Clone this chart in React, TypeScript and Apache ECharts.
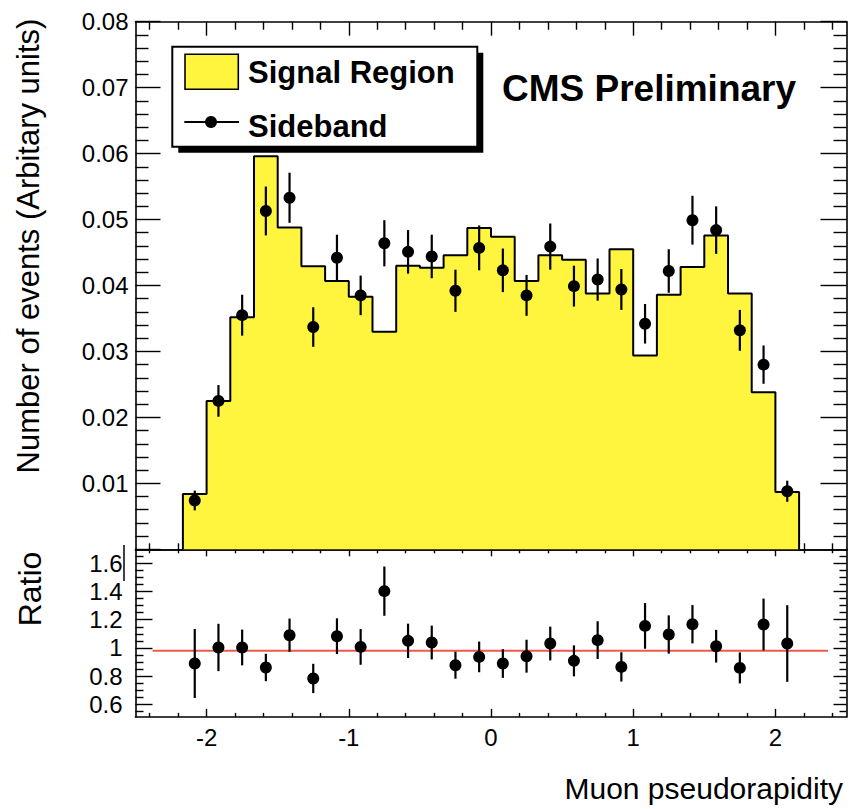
import React, { useEffect, useRef } from "react";
import * as echarts from "echarts";

// ---- data ----
const etaCenters = [
  -2.0833, -1.9167, -1.75, -1.5833, -1.4167, -1.25, -1.0833, -0.9167, -0.75,
  -0.5833, -0.4167, -0.25, -0.0833, 0.0833, 0.25, 0.4167, 0.5833, 0.75, 0.9167,
  1.0833, 1.25, 1.4167, 1.5833, 1.75, 1.9167, 2.0833,
];
const binWidth = 1 / 6;

const signalRegion = [
  0.0084, 0.0225, 0.0352, 0.0596, 0.0488, 0.0429, 0.0407, 0.0383, 0.033,
  0.043, 0.0427, 0.0446, 0.0487, 0.0474, 0.0407, 0.0446, 0.0439, 0.0388,
  0.0455, 0.0294, 0.0386, 0.0428, 0.0476, 0.0388, 0.0238, 0.0087,
];

const sideband = [
  0.0074, 0.0225, 0.0355, 0.0513, 0.0533, 0.0337, 0.0442, 0.0385, 0.0464,
  0.0451, 0.0444, 0.0392, 0.0457, 0.0423, 0.0385, 0.0459, 0.0399, 0.0409,
  0.0394, 0.0342, 0.0422, 0.0499, 0.0484, 0.0332, 0.028, 0.0088,
];
const sidebandErr = [
  0.0015, 0.0024, 0.0031, 0.0037, 0.0038, 0.003, 0.0035, 0.003, 0.0035,
  0.0033, 0.0033, 0.0032, 0.0034, 0.0033, 0.0031, 0.0035, 0.0031, 0.0032,
  0.0031, 0.003, 0.0033, 0.0037, 0.0036, 0.0031, 0.0029, 0.0016,
];

const ratio = [
  0.889, 1.003, 1.003, 0.861, 1.09, 0.783, 1.083, 1.007, 1.403, 1.05, 1.038,
  0.877, 0.936, 0.889, 0.941, 1.031, 0.908, 1.055, 0.865, 1.156, 1.095, 1.168,
  1.012, 0.858, 1.166, 1.031,
];
const ratioErr = [
  0.245, 0.168, 0.127, 0.097, 0.118, 0.104, 0.127, 0.127, 0.175, 0.122, 0.12,
  0.096, 0.109, 0.102, 0.117, 0.12, 0.11, 0.134, 0.104, 0.162, 0.136, 0.136,
  0.116, 0.11, 0.184, 0.272,
];

const fitLevel = 0.98;
const fitRange = [-2.38, 2.37];

// ---- axis ticks / labels ----
const xMajorTicks = [-2, -1, 0, 1, 2];
const xMinorTicks = [
  -2.4, -2.2, -1.8, -1.6, -1.4, -1.2, -0.8, -0.6, -0.4, -0.2, 0.2, 0.4, 0.6,
  0.8, 1.2, 1.4, 1.6, 1.8, 2.2, 2.4,
];
const yMajorTicks = [0.01, 0.02, 0.03, 0.04, 0.05, 0.06, 0.07, 0.08];
const yMinorTicks: number[] = [];
for (let k = 1; k < 40; k++) if (k % 5 !== 0) yMinorTicks.push(+(k * 0.002).toFixed(4));
const ratioMajorTicks = [0.6, 0.8, 1, 1.2, 1.4, 1.6];
const ratioMinorTicks = [
  0.55, 0.65, 0.7, 0.75, 0.85, 0.9, 0.95, 1.05, 1.1, 1.15, 1.25, 1.3, 1.35,
  1.45, 1.5, 1.55, 1.65,
];

const FONT = "'Liberation Sans', Arial, Helvetica, sans-serif";
const YELLOW = "#fff53f";

const G0 = { left: 135.5, top: 21.7, width: 711, height: 527.6 };
const G1 = { left: 135.5, top: 549.3, width: 711, height: 167.6 };

function xAx(grid: number, pos: string, ticks: number[], len: number, line: boolean, labels?: number[]) {
  return {
    type: "value",
    gridIndex: grid,
    position: pos,
    min: -2.5,
    max: 2.5,
    axisLine: { show: line, onZero: false, lineStyle: { color: "#000", width: 1.6 } },
    axisTick: { show: true, inside: true, length: len, customValues: ticks, lineStyle: { color: "#000", width: 1.4 } },
    axisLabel: labels
      ? { show: true, customValues: labels, margin: 9, fontSize: 24, color: "#000", fontFamily: FONT, formatter: (v: number) => String(v) }
      : { show: false },
    splitLine: { show: false },
  };
}

function yAx(grid: number, pos: string, min: number, max: number, ticks: number[], len: number, line: boolean, labels?: number[], margin = 7, fmt?: (v: number) => string) {
  return {
    type: "value",
    gridIndex: grid,
    position: pos,
    min,
    max,
    axisLine: { show: line, onZero: false, lineStyle: { color: "#000", width: 1.6 } },
    axisTick: { show: true, inside: true, length: len, customValues: ticks, lineStyle: { color: "#000", width: 1.4 } },
    axisLabel: labels
      ? { show: true, customValues: labels, margin, fontSize: 24, color: "#000", fontFamily: FONT, formatter: fmt }
      : { show: false },
    splitLine: { show: false },
  };
}

export default function App() {
  const ref = useRef<HTMLDivElement>(null);
  useEffect(() => {
    document.body.style.margin = "0";
    if (!ref.current) return;
    const chart = echarts.init(ref.current, null, { renderer: "svg" });

    // histogram outline points (step 'end')
    const histPts: number[][] = [];
    histPts.push([etaCenters[0] - binWidth / 2, 0]);
    etaCenters.forEach((c, i) => histPts.push([c - binWidth / 2, signalRegion[i]]));
    const last = etaCenters.length - 1;
    histPts.push([etaCenters[last] + binWidth / 2, signalRegion[last]]);
    histPts.push([etaCenters[last] + binWidth / 2, 0]);

    const sbPts = etaCenters.map((c, i) => [c, sideband[i]]);
    const sbErr = etaCenters.map((c, i) => [c, sideband[i] - sidebandErr[i], sideband[i] + sidebandErr[i]]);
    const rPts = etaCenters.map((c, i) => [c, ratio[i]]);
    const rErr = etaCenters.map((c, i) => [c, ratio[i] - ratioErr[i], ratio[i] + ratioErr[i]]);

    const errRender = (params: any, api: any) => {
      const p1 = api.coord([api.value(0), api.value(1)]);
      const p2 = api.coord([api.value(0), api.value(2)]);
      return {
        type: "line",
        shape: { x1: p1[0], y1: p1[1], x2: p2[0], y2: p2[1] },
        style: { stroke: "#000", lineWidth: 2.2 },
      };
    };

    const fmtRatio = (v: number) => (v === 1 ? "1" : v.toFixed(1));

    chart.setOption({
      animation: false,
      backgroundColor: "#fff",
      grid: [
        { ...G0, containLabel: false },
        { ...G1, containLabel: false },
      ],
      xAxis: [
        xAx(0, "bottom", xMajorTicks, 12, true),
        xAx(0, "bottom", xMinorTicks, 6, false),
        xAx(0, "top", xMajorTicks, 14, true),
        xAx(0, "top", xMinorTicks, 8, false),
        xAx(1, "bottom", xMajorTicks, 8, true, xMajorTicks),
        xAx(1, "bottom", xMinorTicks, 4, false),
        xAx(1, "top", xMajorTicks, 7, true),
        xAx(1, "top", xMinorTicks, 4, false),
      ],
      yAxis: [
        yAx(0, "left", 0, 0.08, [0, ...yMajorTicks], 25, true, yMajorTicks, 7, (v: number) => v.toFixed(2)),
        yAx(0, "left", 0, 0.08, yMinorTicks, 13, false),
        yAx(0, "right", 0, 0.08, yMajorTicks, 26, true),
        yAx(0, "right", 0, 0.08, yMinorTicks, 13, false),
        yAx(1, "left", 0.51, 1.7, ratioMajorTicks, 17, true, ratioMajorTicks, 13, fmtRatio),
        yAx(1, "left", 0.51, 1.7, ratioMinorTicks, 8, false),
        yAx(1, "right", 0.51, 1.7, ratioMajorTicks, 13, true),
        yAx(1, "right", 0.51, 1.7, ratioMinorTicks, 7, false),
      ],
      series: [
        {
          type: "line",
          xAxisIndex: 0,
          yAxisIndex: 0,
          step: "end",
          data: histPts,
          symbol: "none",
          lineStyle: { color: "#000", width: 2 },
          areaStyle: { color: YELLOW, opacity: 1 },
          z: 1,
        },
        {
          type: "custom",
          xAxisIndex: 0,
          yAxisIndex: 0,
          data: sbErr,
          encode: { x: 0, y: [1, 2] },
          renderItem: errRender,
          z: 3,
        },
        {
          type: "scatter",
          xAxisIndex: 0,
          yAxisIndex: 0,
          data: sbPts,
          symbol: "circle",
          symbolSize: 12,
          itemStyle: { color: "#000", opacity: 1 },
          z: 4,
        },
        {
          type: "line",
          xAxisIndex: 4,
          yAxisIndex: 4,
          data: [
            [fitRange[0], fitLevel],
            [fitRange[1], fitLevel],
          ],
          symbol: "none",
          lineStyle: { color: "#ef5a48", width: 2 },
          z: 2,
        },
        {
          type: "custom",
          xAxisIndex: 4,
          yAxisIndex: 4,
          data: rErr,
          encode: { x: 0, y: [1, 2] },
          renderItem: errRender,
          z: 3,
        },
        {
          type: "scatter",
          xAxisIndex: 4,
          yAxisIndex: 4,
          data: rPts,
          symbol: "circle",
          symbolSize: 12,
          itemStyle: { color: "#000", opacity: 1 },
          z: 4,
        },
      ],
      graphic: [
        { type: "line", shape: { x1: 124, y1: 545, x2: 124, y2: 581 }, style: { stroke: "#000", lineWidth: 1.5 } },
        { type: "rect", shape: { x: 178.3, y: 52.7, width: 305, height: 100 }, style: { fill: "#000" }, z: 10 },
        { type: "rect", shape: { x: 172.3, y: 46.7, width: 305, height: 100 }, style: { fill: "#fff", stroke: "#000", lineWidth: 2 }, z: 11 },
        { type: "rect", shape: { x: 185, y: 54.3, width: 53.3, height: 35 }, style: { fill: YELLOW, stroke: "#000", lineWidth: 1.6 }, z: 12 },
        { type: "line", shape: { x1: 184.3, y1: 122, x2: 239, y2: 122 }, style: { stroke: "#000", lineWidth: 1.8 }, z: 12 },
        { type: "circle", shape: { cx: 211, cy: 122, r: 6 }, style: { fill: "#000" }, z: 12 },
        {
          type: "text", x: 248, y: 72.5, z: 12,
          style: { text: "Signal Region", fontSize: 31, fontWeight: "bold", fontFamily: FONT, fill: "#000", align: "left", verticalAlign: "middle" },
        },
        {
          type: "text", x: 248, y: 126, z: 12,
          style: { text: "Sideband", fontSize: 31, fontWeight: "bold", fontFamily: FONT, fill: "#000", align: "left", verticalAlign: "middle" },
        },
        {
          type: "text", x: 502, y: 88, z: 12,
          style: { text: "CMS Preliminary", fontSize: 37, fontWeight: "bold", fontFamily: FONT, fill: "#000", align: "left", verticalAlign: "middle" },
        },
        {
          type: "text", x: 28, y: 246, rotation: Math.PI / 2, z: 12,
          style: { text: "Number of events (Arbitary units)", fontSize: 31, fontFamily: FONT, fill: "#000", align: "center", verticalAlign: "middle" },
        },
        {
          type: "text", x: 30, y: 589, rotation: Math.PI / 2, z: 12,
          style: { text: "Ratio", fontSize: 32, fontFamily: FONT, fill: "#000", align: "center", verticalAlign: "middle" },
        },
        {
          type: "text", x: 843, y: 788, z: 12,
          style: { text: "Muon pseudorapidity", fontSize: 30, fontFamily: FONT, fill: "#000", align: "right", verticalAlign: "middle" },
        },
      ],
    });
    return () => chart.dispose();
  }, []);
  return <div ref={ref} style={{ width: 849, height: 809 }} />;
}
